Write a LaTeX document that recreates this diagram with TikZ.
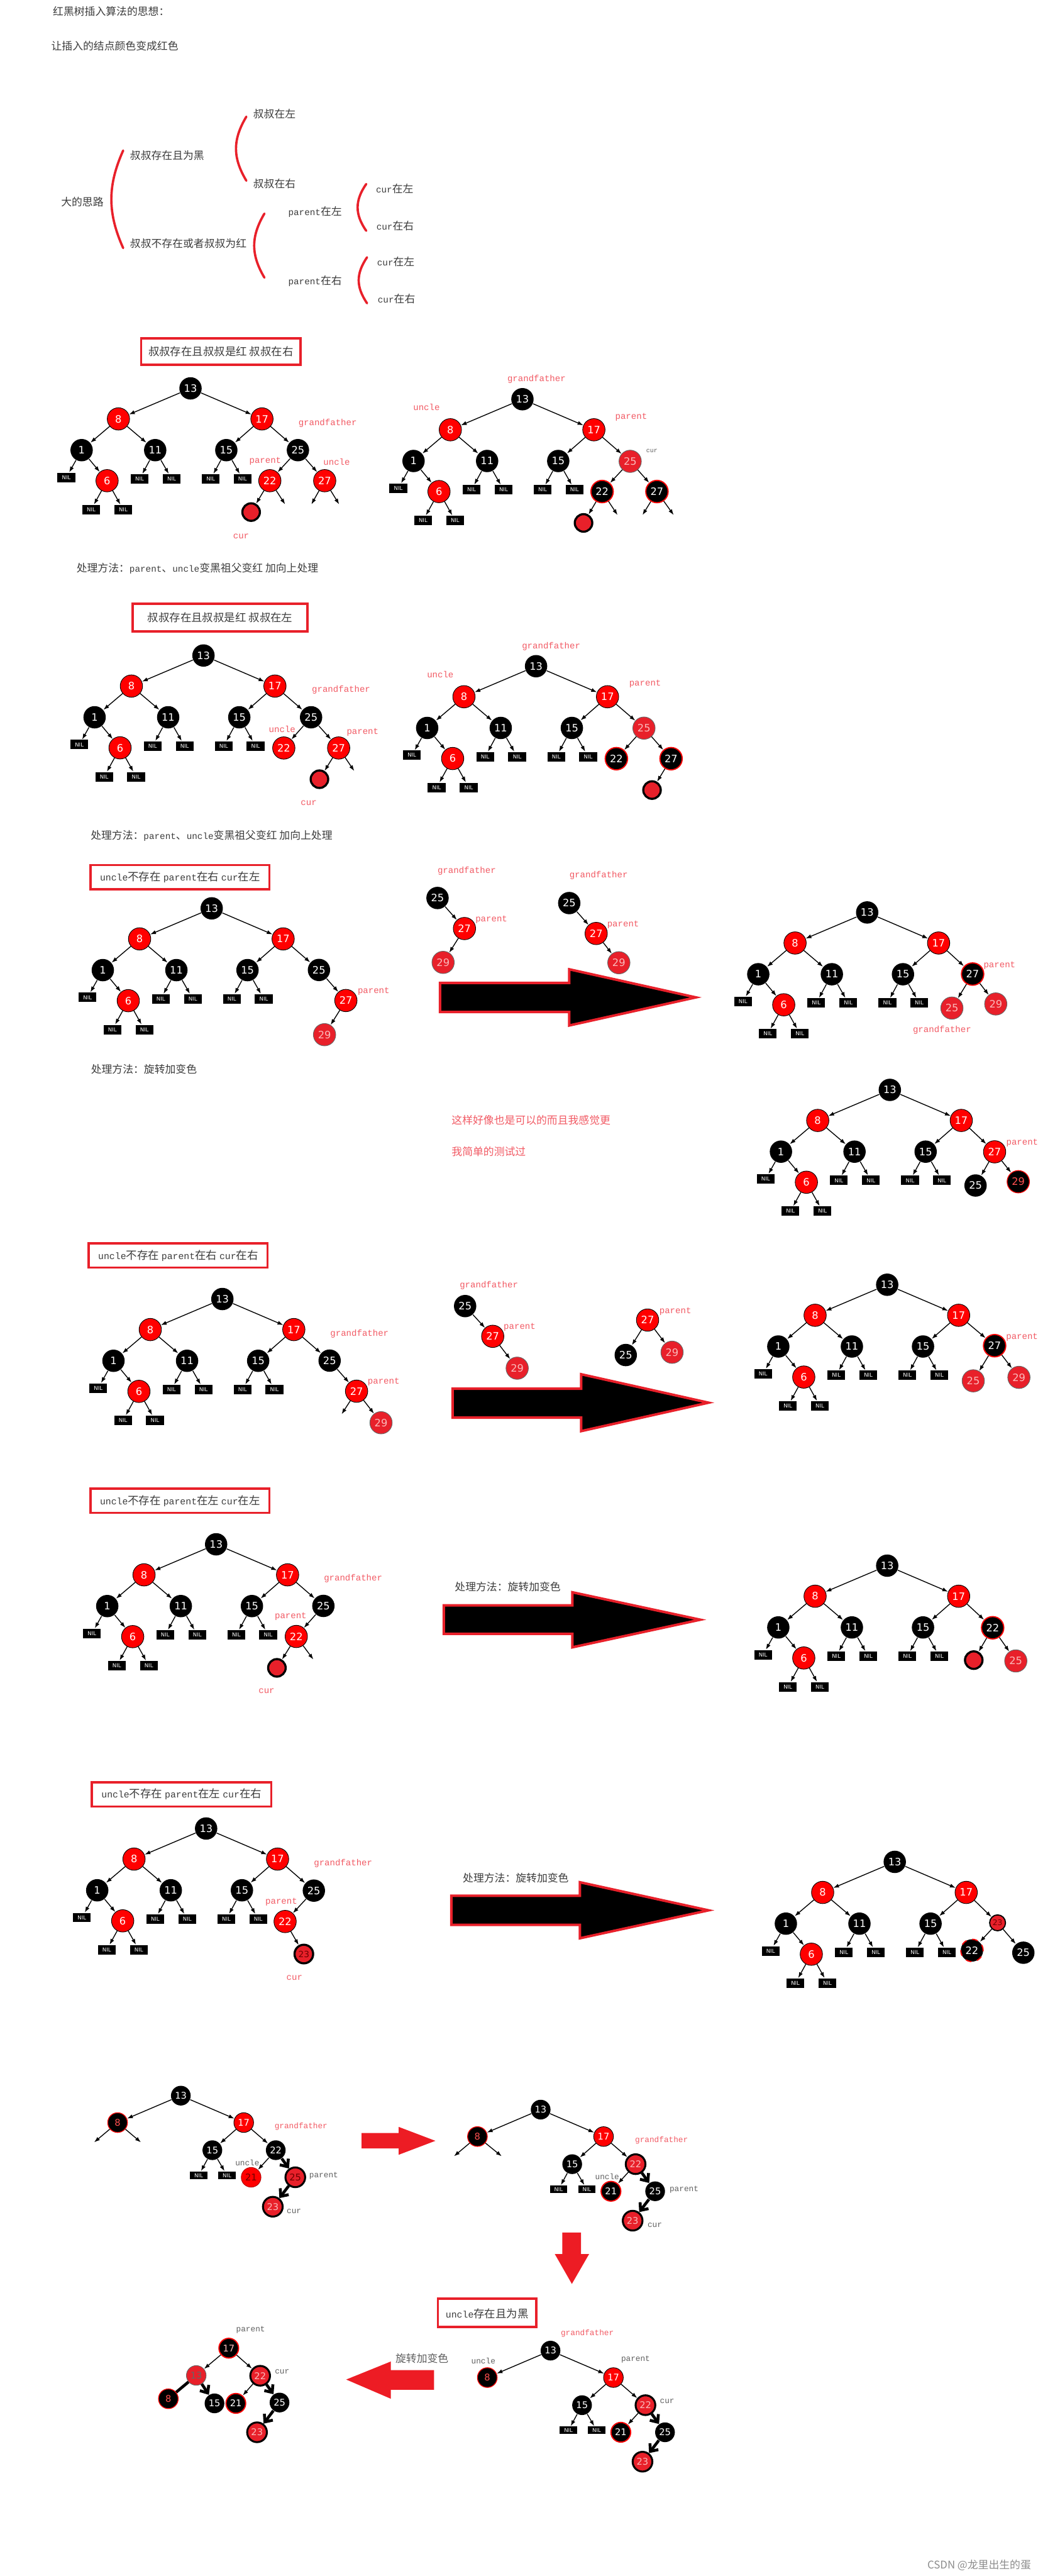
\documentclass[tikz,border=0pt]{standalone}
\usepackage{fontspec}
\setmainfont{Liberation Mono}[Scale=0.85]
\newfontfamily\cjk{Noto Sans CJK SC}
\newfontfamily\numf{DejaVu Sans}
\usetikzlibrary{arrows.meta}
\definecolor{nodered}{RGB}{255,0,0}
\definecolor{lightred}{RGB}{232,32,42}
\definecolor{boxred}{RGB}{232,32,42}
\definecolor{arrred}{RGB}{237,28,36}
\definecolor{labelred}{RGB}{242,90,100}
\definecolor{graytext}{RGB}{95,95,95}
\definecolor{darktext}{RGB}{60,60,60}
\definecolor{pinktext}{RGB}{250,185,185}
\definecolor{darkred}{RGB}{110,0,0}
\definecolor{numred}{RGB}{255,80,80}
\newcommand{\lat}[1]{{\rmfamily #1}}
\tikzset{
 nd/.style={circle, inner sep=0pt, minimum size=0.408cm, font=\numf\fontsize{5.3}{6}\selectfont, text=white},
 blk/.style={nd, fill=black},
 rd/.style={nd, fill=nodered, draw=black, line width=0.3pt},
 lrd/.style={nd, fill=lightred, draw=black!60, line width=0.3pt, text=pinktext},
 lrdk/.style={nd, fill=nodered, draw=nodered!70!black, line width=0.3pt, text=darkred},
 blkr/.style={nd, fill=black, draw=nodered, line width=0.6pt},
 blkrn/.style={nd, fill=black, draw=nodered, line width=0.4pt, text=numred},
 curn/.style={circle, inner sep=0pt, minimum size=0.32cm, fill=lightred, draw=black, line width=1.1pt},
 curnum/.style={curn, minimum size=0.34cm, text=darkred, font=\numf\fontsize{4.5}{5}\selectfont},
 smr/.style={circle, inner sep=0pt, minimum size=0.29cm, fill=lightred, draw=black, line width=0.6pt, text=darkred, font=\numf\fontsize{4}{5}\selectfont},
 tb/.style={nd, fill=lightred, draw=black, line width=1pt, text=pinktext},
 tbk/.style={tb, text=darkred},
 nil/.style={rectangle, fill=black, minimum width=0.324cm, minimum height=0.171cm, inner sep=0pt, text=white, font=\numf\fontsize{2.8}{3}\selectfont},
 ed/.style={-{Latex[length=3pt,width=2.1pt]}, line width=0.45pt},
 thk/.style={-{Straight Barb[length=3.2pt,width=5.5pt]}, line width=1.5pt},
 thkn/.style={line width=1.5pt},
 lbl/.style={text=labelred, font=\rmfamily\fontsize{5.4}{6}\selectfont, inner sep=0pt},
 glbl/.style={text=graytext, font=\rmfamily\fontsize{4.9}{6}\selectfont, inner sep=0pt},
 rlbl/.style={glbl, text=labelred},
 txt/.style={anchor=west, inner sep=0pt, text=darktext, font=\cjk\fontsize{5.5}{6}\selectfont},
 rtxt/.style={txt, text=labelred},
 gtxt/.style={txt, text=graytext},
 boxtxt/.style={inner sep=0pt, text=darktext, font=\cjk\fontsize{5.7}{6}\selectfont},
 box/.style={draw=boxred, line width=1.2pt},
 bigarr/.style={fill=black, draw=boxred, line width=1.3pt, line join=miter},
 redarr/.style={fill=arrred},
 brace/.style={draw=boxred, line width=1.2pt, line cap=round},
 smallsz/.style={nd/.append style={minimum size=0.36cm, font=\numf\fontsize{4.8}{5}\selectfont},
   nil/.append style={minimum width=0.318cm, minimum height=0.14cm}}
}
\newcommand{\basetree}{%
 \node[blk] (n13) at (0,0) {13};
 \node[rd] (n8) at (-43.9,18.6) {8};
 \node[rd] (n17) at (43.5,18.6) {17};
 \node[blk] (n1) at (-66.3,37.6) {1};
 \node[blk] (n11) at (-21.5,37.6) {11};
 \node[blk] (n15) at (21.8,37.6) {15};
 \node[nil] (na) at (-75.6,54.2) {NIL};
 \node[rd] (n6) at (-50.8,56.2) {6};
 \node[nil] (nb) at (-31,55.1) {NIL};
 \node[nil] (nc) at (-11.5,55.1) {NIL};
 \node[nil] (nd) at (12.3,55.1) {NIL};
 \node[nil] (ne) at (31.7,55.1) {NIL};
 \node[nil] (nf) at (-60.5,73.8) {NIL};
 \node[nil] (ng) at (-41,73.8) {NIL};
 \draw[ed] (n13) -- (n8); \draw[ed] (n13) -- (n17);
 \draw[ed] (n8) -- (n1); \draw[ed] (n8) -- (n11);
 \draw[ed] (n17) -- (n15);
 \draw[ed] (n1) -- (na); \draw[ed] (n1) -- (n6);
 \draw[ed] (n11) -- (nb); \draw[ed] (n11) -- (nc);
 \draw[ed] (n15) -- (nd); \draw[ed] (n15) -- (ne);
 \draw[ed] (n6) -- (nf); \draw[ed] (n6) -- (ng);
}
\newcommand{\smalltree}[3]{%
 \node[blk] (n13) at (0,0) {13};
 \node[blkrn] (n8) at (-38.5,16.4) {8};
 \node[rd] (n17) at (38.3,16.4) {17};
 \node[blk] (n15) at (19.2,33.2) {15};
 \node[#1] (n22) at (57.8,33.2) {22};
 \node[nil] (na) at (10.9,48.5) {NIL};
 \node[nil] (nb) at (28.1,48.5) {NIL};
 \node[#2] (n21) at (42.8,49.7) {21};
 \node[#3] (n25) at (69.7,49.7) {25};
 \node[tb] (n23) at (56,67.6) {23};
 \draw[ed] (n13) -- (n8); \draw[ed] (n13) -- (n17);
 \draw[ed] (n17) -- (n15); \draw[ed] (n17) -- (n22);
 \draw[ed] (n15) -- (na); \draw[ed] (n15) -- (nb);
 \draw[ed] (n22) -- (n21);
 \draw[thk] (n22) -- (n25); \draw[thk] (n25) -- (n23);
}
\begin{document}
\begin{tikzpicture}[x=0.03cm, y=-0.03cm]
\useasboundingbox (0,0) rectangle (632,1568);
\fill[white] (0,0) rectangle (632,1568);

% ---------- header ----------
\node[txt] (h1) at (32,6.8) {红黑树插入算法的思想：};
\node[txt] (h2) at (31,28) {让插入的结点颜色变成红色};
\node[txt] (i0) at (37,123) {大的思路};
\node[txt] (i1) at (79,94.5) {叔叔存在且为黑};
\node[txt] (i2) at (79,148) {叔叔不存在或者叔叔为红};
\node[txt] (i3) at (154,69.5) {叔叔在左};
\node[txt] (i4) at (154,111.7) {叔叔在右};
\node[txt] (i5) at (175.3,128.8) {\lat{parent}在左};
\node[txt] (i6) at (175.3,171) {\lat{parent}在右};
\node[txt] (i7) at (228.7,115) {\lat{cur}在左};
\node[txt] (i8) at (229,137.5) {\lat{cur}在右};
\node[txt] (i9) at (229.4,159.4) {\lat{cur}在左};
\node[txt] (i10) at (229.8,182) {\lat{cur}在右};
\draw[brace] (75,91.6) .. controls (65.4,113) and (65.4,129.6) .. (75,151);
\draw[brace] (150,71) .. controls (141.6,85) and (141.6,96) .. (150,110);
\draw[brace] (161,130) .. controls (152.7,144) and (152.7,155) .. (161,169);
\draw[brace] (223,112) .. controls (216,122) and (216,130.5) .. (223,140.5);
\draw[brace] (223.5,156.6) .. controls (216.7,166.6) and (216.7,174.6) .. (223.5,184.6);

% ---------- section 1 ----------
\draw[box] (86,206) rectangle (183,222);
\node[boxtxt] (b1) at (134.5,214) {叔叔存在且叔叔是红 叔叔在右};
\begin{scope}[shift={(116,236.4)}, name prefix=a-]
 \basetree
 \node[blk] (nR) at (65.4,37.6) {25};
 \node[rd] (nRL) at (48.3,56.2) {22};
 \node[rd] (nRR) at (81.7,56.2) {27};
 \node[curn] (ncur) at (36.9,75.3) {};
 \coordinate (d1) at (57.6,70.6); \coordinate (d2) at (73.6,70.6); \coordinate (d3) at (90.5,70.6);
 \draw[ed] (n17) -- (nR); \draw[ed] (nR) -- (nRL); \draw[ed] (nR) -- (nRR);
 \draw[ed] (nRL) -- (ncur); \draw[ed] (nRL) -- (d1);
 \draw[ed] (nRR) -- (d2); \draw[ed] (nRR) -- (d3);
\end{scope}
\node[lbl] (l1) at (199.5,257.5) {grandfather};
\node[lbl] (l2) at (161.5,280.6) {parent};
\node[lbl] (l3) at (205,281) {uncle};
\node[lbl] (l4) at (146.8,326.3) {cur};
\begin{scope}[shift={(318.1,243)}, name prefix=b-]
 \basetree
 \node[lrd] (nR) at (65.6,37.8) {25};
 \node[blkr] (nRL) at (48.5,56.2) {22};
 \node[blkr] (nRR) at (81.9,56.2) {27};
 \node[curn] (ncur) at (37.2,75.3) {};
 \coordinate (d1) at (57.9,70.5); \coordinate (d2) at (73.1,70.5); \coordinate (d3) at (92.1,70.5);
 \draw[ed] (n17) -- (nR); \draw[ed] (nR) -- (nRL); \draw[ed] (nR) -- (nRR);
 \draw[ed] (nRL) -- (ncur); \draw[ed] (nRL) -- (d1);
 \draw[ed] (nRR) -- (d2); \draw[ed] (nRR) -- (d3);
\end{scope}
\node[lbl] (l5) at (326.7,230.8) {grandfather};
\node[lbl] (l6) at (259.7,248) {uncle};
\node[lbl] (l7) at (384.3,253.8) {parent};
\node[glbl, font=\rmfamily\fontsize{3.8}{4}\selectfont] (l8) at (396.9,274.6) {cur};
\node[txt] (p1) at (46.4,346) {处理方法：\lat{parent}、\lat{uncle}变黑祖父变红 加向上处理};

% ---------- section 2 ----------
\draw[box] (80.8,367.4) rectangle (187.3,384.3);
\node[boxtxt] (b2) at (134,376) {叔叔存在且叔叔是红 叔叔在左};
\begin{scope}[shift={(123.9,399)}, name prefix=c-]
 \basetree
 \node[blk] (nR) at (65.5,37.6) {25};
 \node[rd] (nRL) at (48.9,56.3) {22};
 \node[rd] (nRR) at (82.3,56.3) {27};
 \node[curn] (ncur) at (70.6,75.3) {};
 \coordinate (d1) at (91.8,70.3);
 \draw[ed] (n17) -- (nR); \draw[ed] (nR) -- (nRL); \draw[ed] (nR) -- (nRR);
 \draw[ed] (nRR) -- (ncur); \draw[ed] (nRR) -- (d1);
\end{scope}
\node[lbl] (l9) at (207.7,419.9) {grandfather};
\node[lbl] (l10) at (171.8,443.7) {uncle};
\node[lbl] (l11) at (220.8,445.7) {parent};
\node[lbl] (l12) at (188,488.9) {cur};
\begin{scope}[shift={(326.4,405.5)}, name prefix=d-]
 \basetree
 \node[lrd] (nR) at (65.7,37.7) {25};
 \node[blkr] (nRL) at (48.9,56.3) {22};
 \node[blkr] (nRR) at (82.2,56.3) {27};
 \node[curn] (ncur) at (70.6,75.4) {};
 \draw[ed] (n17) -- (nR); \draw[ed] (nR) -- (nRL); \draw[ed] (nR) -- (nRR);
 \draw[ed] (nRR) -- (ncur);
\end{scope}
\node[lbl] (l13) at (335.6,393.4) {grandfather};
\node[lbl] (l14) at (268.1,410.6) {uncle};
\node[lbl] (l15) at (392.8,416.3) {parent};
\node[txt] (p2) at (55,508.8) {处理方法：\lat{parent}、\lat{uncle}变黑祖父变红 加向上处理};

% ---------- section 3 ----------
\draw[box] (55.2,526.6) rectangle (164,541.4);
\node[boxtxt] (b3) at (109.6,534) {\lat{uncle}不存在 \lat{parent}在右 \lat{cur}在左};
\begin{scope}[shift={(128.9,552.9)}, name prefix=e-]
 \basetree
 \node[blk] (nR) at (65.3,37.5) {25};
 \node[rd] (nRR) at (81.7,56.1) {27};
 \node[lrd] (n29) at (68.7,76.9) {29};
 \draw[ed] (n17) -- (nR); \draw[ed] (nR) -- (nRR); \draw[ed] (nRR) -- (n29);
\end{scope}
\node[lbl] (l16) at (227.5,603.4) {parent};
\node[txt] (p3) at (55.2,650.8) {处理方法：旋转加变色};
\node[blk] (m1a) at (266.4,546.6) {25};
\node[rd] (m1b) at (282.8,565.2) {27};
\node[lrd] (m1c) at (269.8,585.8) {29};
\draw[ed] (m1a) -- (m1b); \draw[ed] (m1b) -- (m1c);
\node[lbl] (l17) at (284.2,530.1) {grandfather};
\node[lbl] (l18) at (299.2,559.7) {parent};
\node[blk] (m2a) at (346.6,549.7) {25};
\node[rd] (m2b) at (363,568.2) {27};
\node[lrd] (m2c) at (376.8,586) {29};
\draw[ed] (m2a) -- (m2b); \draw[ed] (m2b) -- (m2c);
\node[lbl] (l19) at (364.5,532.8) {grandfather};
\node[lbl] (l20) at (379.4,562.8) {parent};
\draw[bigarr] (267.9,598.3) -- (346.6,598.3) -- (346.6,590) -- (423.7,607.1) -- (346.6,624.2) -- (346.6,616) -- (267.9,616) -- cycle;
\begin{scope}[shift={(528,555.4)}, name prefix=f-]
 \basetree
 \node[blkr] (nR) at (64.2,37.5) {27};
 \node[lrd] (n25) at (51.6,58.2) {25};
 \node[lrd] (n29) at (78.3,55.7) {29};
 \draw[ed] (n17) -- (nR); \draw[ed] (nR) -- (n25); \draw[ed] (nR) -- (n29);
\end{scope}
\node[lbl] (l21) at (608.6,587.8) {parent};
\node[lbl] (l22) at (573.6,627) {grandfather};

% ---------- section 3b ----------
\node[rtxt] (t1) at (274.8,681.8) {这样好像也是可以的而且我感觉更};
\node[rtxt] (t2) at (274.8,700.9) {我简单的测试过};
\begin{scope}[shift={(541.8,663.4)}, name prefix=g-]
 \basetree
 \node[rd] (nR) at (63.8,37.7) {27};
 \node[blk] (n25) at (52.2,58.2) {25};
 \node[blkrn] (n29) at (78.2,55.9) {29};
 \draw[ed] (n17) -- (nR); \draw[ed] (nR) -- (n25); \draw[ed] (nR) -- (n29);
\end{scope}
\node[lbl] (l23) at (622.4,695.8) {parent};

% ---------- section 4 ----------
\draw[box] (54,756.8) rectangle (162.9,771.6);
\node[boxtxt] (b4) at (108.5,764.2) {\lat{uncle}不存在 \lat{parent}在右 \lat{cur}在右};
\begin{scope}[shift={(135.4,790.7)}, name prefix=h-]
 \basetree
 \node[blk] (nR) at (65.3,37.5) {25};
 \node[rd] (nRR) at (81.7,56.1) {27};
 \node[lrd] (n29) at (96.6,75.3) {29};
 \coordinate (d1) at (72.6,70.1);
 \draw[ed] (n17) -- (nR); \draw[ed] (nR) -- (nRR); \draw[ed] (nRR) -- (d1); \draw[ed] (nRR) -- (n29);
\end{scope}
\node[lbl] (l24) at (218.9,811.7) {grandfather};
\node[lbl] (l25) at (233.6,841.3) {parent};
\node[blk] (m3a) at (283.2,795) {25};
\node[rd] (m3b) at (300,813.4) {27};
\node[lrd] (m3c) at (314.9,832.8) {29};
\draw[ed] (m3a) -- (m3b); \draw[ed] (m3b) -- (m3c);
\node[lbl] (l26) at (297.7,782.4) {grandfather};
\node[lbl] (l27) at (316.4,808) {parent};
\node[rd] (m4a) at (394.3,803.5) {27};
\node[blk] (m4b) at (381,824.8) {25};
\node[lrd] (m4c) at (409.2,823.1) {29};
\draw[ed] (m4a) -- (m4b); \draw[ed] (m4a) -- (m4c);
\node[lbl] (l28) at (411.2,798.1) {parent};
\draw[bigarr] (275.6,845.3) -- (353.9,845.3) -- (353.9,836.5) -- (431.4,853.8) -- (353.9,871.1) -- (353.9,862.9) -- (275.6,862.9) -- cycle;
\begin{scope}[shift={(540.2,782)}, name prefix=i-]
 \basetree
 \node[blkr] (nR) at (65.4,37.1) {27};
 \node[lrd] (n25) at (52.4,58.5) {25};
 \node[lrd] (n29) at (80.2,56.4) {29};
 \draw[ed] (n17) -- (nR); \draw[ed] (nR) -- (n25); \draw[ed] (nR) -- (n29);
\end{scope}
\node[lbl] (l29) at (622.3,813.8) {parent};

% ---------- section 5 ----------
\draw[box] (55.2,906.1) rectangle (164,920.9);
\node[boxtxt] (b5) at (109.6,913.5) {\lat{uncle}不存在 \lat{parent}在左 \lat{cur}在左};
\begin{scope}[shift={(131.6,940)}, name prefix=j-]
 \basetree
 \node[blk] (nR) at (65.3,37.5) {25};
 \node[rd] (nRL) at (48.8,56.1) {22};
 \node[curn] (ncur) at (37,75.2) {};
 \coordinate (d1) at (59.2,70.1);
 \draw[ed] (n17) -- (nR); \draw[ed] (nR) -- (nRL); \draw[ed] (nRL) -- (ncur); \draw[ed] (nRL) -- (d1);
\end{scope}
\node[lbl] (l30) at (215,960.9) {grandfather};
\node[lbl] (l31) at (177,984) {parent};
\node[lbl] (l32) at (162.3,1029.4) {cur};
\node[txt] (p5) at (276.7,965.8) {处理方法：旋转加变色};
\draw[bigarr] (270.2,977.2) -- (348.5,977.2) -- (348.5,969.2) -- (426.4,985.9) -- (348.5,1002.7) -- (348.5,994.5) -- (270.2,994.5) -- cycle;
\begin{scope}[shift={(540.2,953)}, name prefix=k-]
 \basetree
 \node[blkr] (nR) at (64.2,37.8) {22};
 \node[curn] (ncur) at (52.7,57.5) {};
 \node[lrd] (n25) at (78.3,58) {25};
 \draw[ed] (n17) -- (nR); \draw[ed] (nR) -- (ncur); \draw[ed] (nR) -- (n25);
\end{scope}

% ---------- section 6 ----------
\draw[box] (55.9,1084.8) rectangle (165.2,1099.6);
\node[boxtxt] (b6) at (110.5,1092.2) {\lat{uncle}不存在 \lat{parent}在左 \lat{cur}在右};
\begin{scope}[shift={(125.5,1113)}, name prefix=l-]
 \basetree
 \node[blk] (nR) at (65.6,37.8) {25};
 \node[rd] (nRL) at (48.1,56.6) {22};
 \node[curnum] (n23) at (59.5,76.4) {23};
 \draw[ed] (n17) -- (nR); \draw[ed] (nR) -- (nRL); \draw[ed] (nRL) -- (n23);
\end{scope}
\node[lbl] (l33) at (208.9,1134.3) {grandfather};
\node[lbl] (l34) at (171.3,1157.6) {parent};
\node[lbl] (l35) at (179.3,1204) {cur};
\node[txt] (p6) at (281.6,1142.9) {处理方法：旋转加变色};
\draw[bigarr] (274.8,1153.9) -- (353.1,1153.9) -- (353.1,1145.7) -- (431.4,1162.8) -- (353.1,1179.8) -- (353.1,1171.6) -- (274.8,1171.6) -- cycle;
\begin{scope}[shift={(544.8,1133.3)}, name prefix=m-]
 \basetree
 \node[smr] (nR) at (62.6,37.1) {23};
 \node[blkr, dashed] (n22) at (47,53.9) {22};
 \node[blk] (n25) at (78.3,55.3) {25};
 \draw[ed] (n17) -- (nR); \draw[ed] (nR) -- (n22); \draw[ed] (nR) -- (n25);
\end{scope}

% ---------- section 7 ----------
\begin{scope}[shift={(110.1,1275.6)}, name prefix=p-, smallsz]
 \smalltree{blk}{lrdk}{tbk}
 \coordinate (d1) at (-52.8,28.4); \coordinate (d2) at (-24.3,28.4);
 \draw[ed] (n8) -- (d1); \draw[ed] (n8) -- (d2);
\end{scope}
\node[rlbl] (l36) at (183.3,1294.4) {grandfather};
\node[glbl] (l37) at (150.6,1316.5) {uncle};
\node[glbl] (l38) at (197.1,1324.2) {parent};
\node[glbl] (l39) at (179,1346.1) {cur};
\fill[redarr] (220.2,1298.3) -- (242.7,1298.3) -- (242.7,1294.6) -- (265.1,1303.1) -- (242.7,1311.6) -- (242.7,1307.7) -- (220.2,1307.7) -- cycle;
\begin{scope}[shift={(329.2,1284.1)}, name prefix=r-, smallsz]
 \smalltree{tb}{blkr}{blk}
 \coordinate (d1) at (-52.8,28.4); \coordinate (d2) at (-23.7,28.4);
 \draw[ed] (n8) -- (d1); \draw[ed] (n8) -- (d2);
\end{scope}
\node[rlbl] (l40) at (402.8,1302.9) {grandfather};
\node[glbl] (l41) at (369.7,1325) {uncle};
\node[glbl] (l42) at (416.5,1332.6) {parent};
\node[glbl] (l43) at (398.7,1354.6) {cur};
\fill[redarr] (342.4,1358.9) -- (353.8,1358.9) -- (353.8,1372) -- (358.7,1372) -- (348.2,1390.2) -- (337.8,1372) -- (342.4,1372) -- cycle;

% ---------- section 8 ----------
\draw[box] (266.6,1399.2) rectangle (326.6,1416.5);
\node[boxtxt] (b7) at (296.6,1408.4) {\lat{uncle}存在且为黑};
\begin{scope}[shift={(335.2,1430.8)}, name prefix=s-, smallsz]
 \smalltree{tb}{blkr}{blk}
\end{scope}
\node[rlbl] (l44) at (357.6,1420.3) {grandfather};
\node[glbl] (l45) at (294.3,1437) {uncle};
\node[glbl] (l46) at (387,1436.1) {parent};
\node[glbl] (l47) at (406.2,1461.7) {cur};
\fill[redarr] (264.3,1442.7) -- (238,1442.7) -- (238,1437.4) -- (210.8,1448.4) -- (238,1460.1) -- (238,1454.6) -- (264.3,1454.6) -- cycle;
\node[gtxt] (t3) at (240.6,1435.6) {旋转加变色};
\begin{scope}[shift={(139.3,1429.3)}, name prefix=q-, smallsz]
 \node[blkr, text=pinktext] (n17) at (0,0) {17};
 \node[lrd, text=black!60] (n13) at (-19.8,16.6) {13};
 \node[tb] (n22) at (19.1,16.8) {22};
 \node[blkrn] (n8) at (-36.8,30.8) {8};
 \node[blk] (n15) at (-8.7,33.6) {15};
 \node[blkr] (n21) at (4.3,33.6) {21};
 \node[blk] (n25) at (30.9,33.1) {25};
 \node[tb] (n23) at (17.2,51.2) {23};
 \draw[ed] (n17) -- (n13); \draw[ed] (n17) -- (n22);
 \draw[thkn] (n13) -- (n8); \draw[thk] (n13) -- (n15);
 \draw[ed] (n22) -- (n21);
 \draw[thk] (n22) -- (n25); \draw[thk] (n25) -- (n23);
\end{scope}
\node[glbl] (l48) at (152.6,1418.3) {parent};
\node[glbl] (l49) at (171.8,1443.8) {cur};

\node[anchor=east, inner sep=0pt, text=black!45, font=\cjk\fontsize{5.5}{6}\selectfont] (wm) at (628,1561.5) {CSDN @龙里出生的蛋};
\end{tikzpicture}
\end{document}
